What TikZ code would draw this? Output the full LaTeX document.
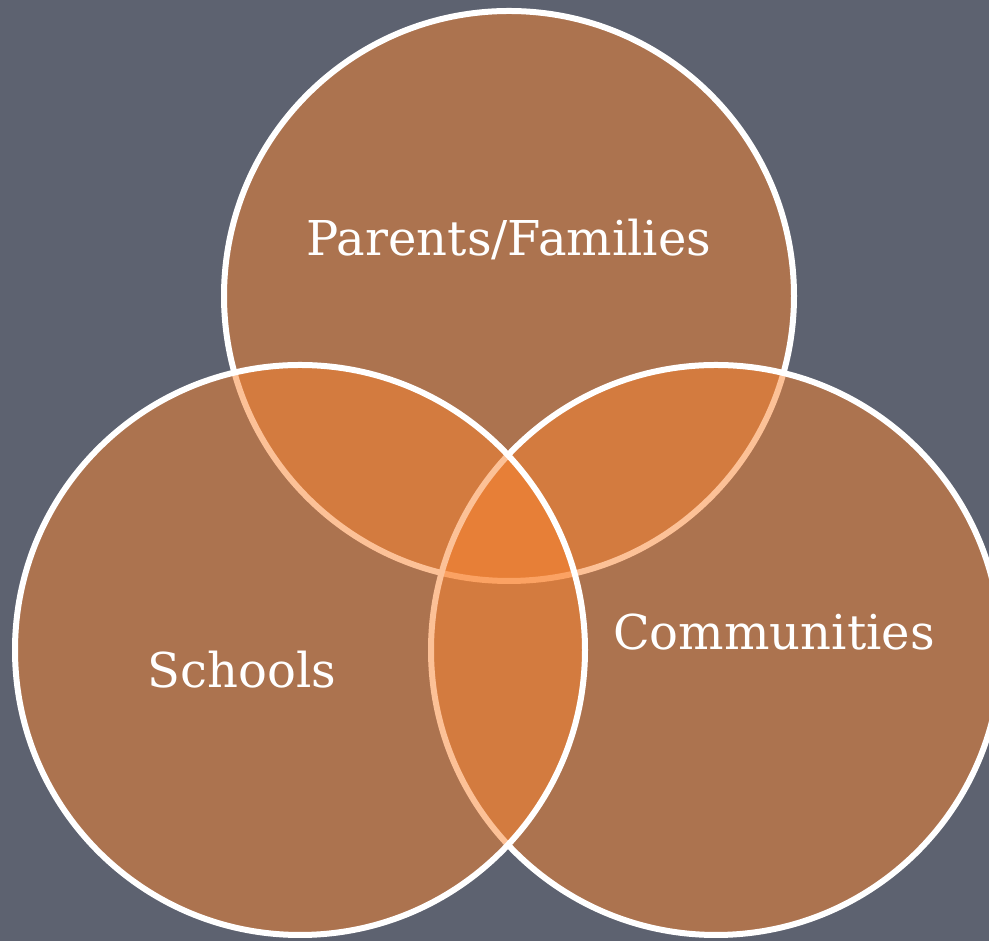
\documentclass[tikz,border=0pt]{standalone}
\usepackage{fontspec}
\setmainfont{DejaVu Serif}
\definecolor{bgcol}{RGB}{93,98,112}
\definecolor{vfill}{RGB}{251,132,48}
\begin{document}
\begin{tikzpicture}[x=1pt,y=1pt,
  venn/.style={circle, draw=white, line width=6pt, fill=vfill, fill opacity=0.5, minimum size=570pt, inner sep=0pt},
  lbl/.style={text=white, font=\fontsize{48}{56}\selectfont, text opacity=1}]
\fill[bgcol] (0,0) rectangle (989,941);
\useasboundingbox (0,0) rectangle (989,941);
\clip (0,0) rectangle (989,941);
\node[venn] (top) at (509,645) {};
\node[venn] (right) at (716,291) {};
\node[venn] (left) at (300,291) {};
\node[lbl] (pf) at (509,701) {Parents/Families};
\node[lbl] (comm) at (774,309) {Communities};
\node[lbl] (sch) at (242,271) {Schools};
\end{tikzpicture}
\end{document}
